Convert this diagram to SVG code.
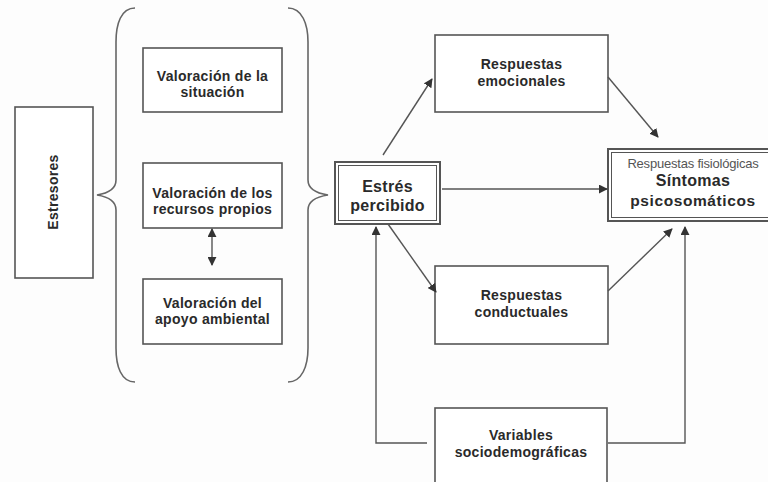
<svg xmlns="http://www.w3.org/2000/svg" width="768" height="482" viewBox="0 0 768 482">
<defs>
<marker id="ah" viewBox="0 0 10 10" refX="9" refY="5" markerWidth="9" markerHeight="9" markerUnits="userSpaceOnUse" orient="auto-start-reverse">
<path d="M0,0 L10,5 L0,10 z" fill="#333"/>
</marker>
</defs>
<style>
.box{fill:#fff;stroke:#555;stroke-width:1.6}
.dbl{fill:none;stroke:#555;stroke-width:1}
.t{font-family:"Liberation Sans",Arial,sans-serif;font-weight:bold;font-size:14px;fill:#2a2a2a;text-anchor:middle;letter-spacing:0.3px}
.big{font-size:16px}
.sm{font-weight:normal;font-size:13px;fill:#555;letter-spacing:-0.2px}
.c{fill:none;stroke:#555;stroke-width:1.4}
.ar{marker-end:url(#ah)}
.br{fill:none;stroke:#666;stroke-width:1.6}
</style>
<rect width="768" height="482" fill="#fdfdfd"/>

<g id="estresores">
<rect class="box" x="15" y="107" width="78" height="171"/>
<text class="t" transform="translate(58,192) rotate(-90)">Estresores</text>
</g>

<g id="braces">
<path class="br" d="M135,8 C121,8 116,24 116,42 L116,180 Q116,192 97,195 Q116,198 116,210 L116,348 C116,366 121,382 135,382"/>
<path class="br" d="M288,8 C302,8 308,24 308,42 L308,180 Q308,192 328,195 Q308,198 308,210 L308,348 C308,366 302,382 288,382"/>
</g>

<g id="val-situacion">
<rect class="box" x="143" y="48" width="139" height="64"/>
<text class="t" x="212.5" y="81">Valoración de la</text>
<text class="t" x="212.5" y="97">situación</text>
</g>

<g id="val-recursos">
<rect class="box" x="143" y="163" width="139" height="65"/>
<text class="t" x="212.5" y="198">Valoración de los</text>
<text class="t" x="212.5" y="214">recursos propios</text>
</g>

<g id="val-apoyo">
<rect class="box" x="143" y="279" width="139" height="65"/>
<text class="t" x="212.5" y="308">Valoración del</text>
<text class="t" x="212.5" y="324">apoyo ambiental</text>
</g>

<g id="estres-percibido">
<rect x="335" y="162" width="105" height="62" fill="#fff" stroke="#555" stroke-width="2"/>
<rect class="dbl" x="338.5" y="165.5" width="98" height="55"/>
<text class="t big" x="387.5" y="192">Estrés</text>
<text class="t big" x="387.5" y="211">percibido</text>
</g>

<g id="resp-emocionales">
<rect class="box" x="435" y="35" width="173" height="77"/>
<text class="t" x="521.5" y="69">Respuestas</text>
<text class="t" x="521.5" y="86">emocionales</text>
</g>

<g id="sintomas">
<rect x="608" y="149" width="170" height="72" fill="#fff" stroke="#555" stroke-width="2"/>
<rect class="dbl" x="611.5" y="152.5" width="170" height="65"/>
<text class="t sm" x="693" y="168">Respuestas fisiológicas</text>
<text class="t big" x="693" y="186">Síntomas</text>
<text class="t big" x="693" y="206" style="font-size:15.5px;letter-spacing:0.6px">psicosomáticos</text>
</g>

<g id="resp-conductuales">
<rect class="box" x="435" y="266" width="173" height="78"/>
<text class="t" x="521.5" y="300">Respuestas</text>
<text class="t" x="521.5" y="317">conductuales</text>
</g>

<g id="variables">
<rect class="box" x="435" y="408" width="172" height="90"/>
<text class="t" x="521" y="440">Variables</text>
<text class="t" x="521" y="457">sociodemográficas</text>
</g>

<g id="connectors">
<line class="c ar" x1="383" y1="155" x2="432" y2="79"/>
<line class="c ar" x1="608" y1="77" x2="658" y2="137"/>
<line class="c ar" x1="442" y1="189" x2="607" y2="189"/>
<line class="c ar" x1="388" y1="224" x2="436" y2="292"/>
<line class="c ar" x1="608" y1="291" x2="672" y2="229"/>
<polyline class="c ar" points="427,443 376,443 376,227"/>
<polyline class="c ar" points="608,443 685,443 685,227"/>
<line class="c ar" x1="212" y1="265" x2="212" y2="229" style="marker-start:url(#ah)"/>
</g>
</svg>
